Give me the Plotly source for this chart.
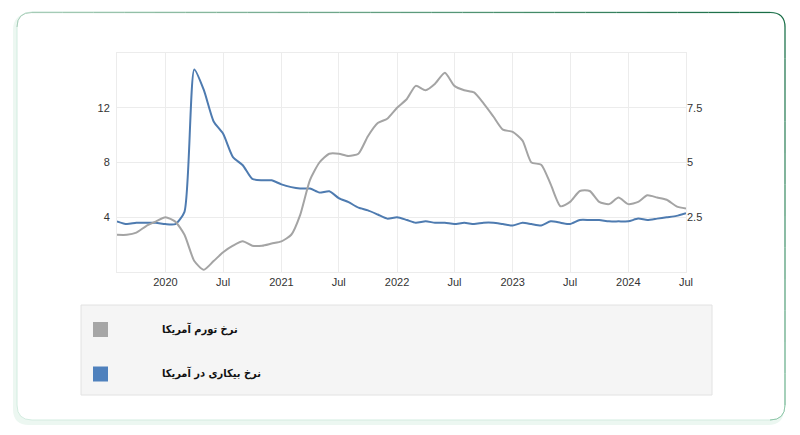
import plotly.graph_objects as go
import pandas as pd

# ---------------- data ----------------
months = pd.date_range("2019-08-01", "2024-07-01", freq="MS").strftime("%Y-%m-%d").tolist()

inflation = [1.7, 1.7, 1.8, 2.1, 2.3,
             2.5, 2.3, 1.7, 0.5, 0.1, 0.5, 0.9, 1.2, 1.4, 1.2, 1.2, 1.3,
             1.4, 1.7, 2.6, 4.2, 5.0, 5.4, 5.4, 5.3, 5.4, 6.2, 6.8, 7.0,
             7.5, 7.9, 8.5, 8.3, 8.6, 9.1, 8.5, 8.3, 8.2, 7.7, 7.1, 6.5,
             6.4, 6.0, 5.0, 4.9, 4.0, 3.0, 3.2, 3.7, 3.7, 3.2, 3.1, 3.4,
             3.1, 3.2, 3.5, 3.4, 3.3, 3.0, 2.9]

unemployment = [3.7, 3.5, 3.6, 3.6, 3.6,
                3.5, 3.5, 4.4, 14.8, 13.3, 11.0, 10.1, 8.4, 7.8, 6.8, 6.7, 6.7,
                6.4, 6.2, 6.1, 6.1, 5.8, 5.9, 5.4, 5.1, 4.7, 4.5, 4.2, 3.9,
                4.0, 3.8, 3.6, 3.7, 3.6, 3.6, 3.5, 3.6, 3.5, 3.6, 3.6, 3.5,
                3.4, 3.6, 3.5, 3.4, 3.7, 3.6, 3.5, 3.8, 3.8, 3.8, 3.7, 3.7,
                3.7, 3.9, 3.8, 3.9, 4.0, 4.1, 4.3]

x_tickvals = ["2020-01-01", "2020-07-01", "2021-01-01", "2021-07-01", "2022-01-01",
              "2022-07-01", "2023-01-01", "2023-07-01", "2024-01-01", "2024-07-01"]
x_ticktext = ["2020", "Jul", "2021", "Jul", "2022", "Jul", "2023", "Jul", "2024", "Jul"]
left_ticks = [4, 8, 12]
right_ticks = [2.5, 5, 7.5]

series_names = ["نرخ تورم آمریکا", "نرخ بیکاری در آمریکا"]
series_colors = ["#a4a4a4", "#4e7bb0"]
legend_colors = ["#a6a6a6", "#4f81bd"]

# ---------------- layout helpers ----------------
L, R, T, B = 117, 686, 53, 272
W, H = R - L, B - T


def px(x):
    return (x - L) / W


def py(y):
    return (B - y) / H


def rounded_path(x0, y0, x1, y1, r):
    pts = [
        f"M {px(x0 + r)},{py(y0)}",
        f"L {px(x1 - r)},{py(y0)}",
        f"Q {px(x1)},{py(y0)} {px(x1)},{py(y0 + r)}",
        f"L {px(x1)},{py(y1 - r)}",
        f"Q {px(x1)},{py(y1)} {px(x1 - r)},{py(y1)}",
        f"L {px(x0 + r)},{py(y1)}",
        f"Q {px(x0)},{py(y1)} {px(x0)},{py(y1 - r)}",
        f"L {px(x0)},{py(y0 + r)}",
        f"Q {px(x0)},{py(y0)} {px(x0 + r)},{py(y0)}",
        "Z",
    ]
    return " ".join(pts)


def mix(c1, c2, t):
    a = [int(c1[i:i + 2], 16) for i in (1, 3, 5)]
    b = [int(c2[i:i + 2], 16) for i in (1, 3, 5)]
    return "#" + "".join(f"{round(a[k] + (b[k] - a[k]) * t):02x}" for k in range(3))


fig = go.Figure()

fig.add_trace(go.Scatter(
    x=months, y=inflation, name=series_names[0], yaxis="y2",
    mode="lines", line=dict(color=series_colors[0], width=2, shape="spline", smoothing=0.6),
    showlegend=False,
))
fig.add_trace(go.Scatter(
    x=months, y=unemployment, name=series_names[1], yaxis="y",
    mode="lines", line=dict(color=series_colors[1], width=2, shape="spline", smoothing=0.6),
    showlegend=False,
))

shapes = []
# card shadow + card
shapes.append(dict(type="path", xref="paper", yref="paper", layer="below",
                   path=rounded_path(13, 14, 784, 425, 16),
                   fillcolor="#ecf7f1", line=dict(width=0)))
shapes.append(dict(type="path", xref="paper", yref="paper", layer="below",
                   path=rounded_path(17, 12, 785, 420, 15),
                   fillcolor="#ffffff", line=dict(color="#d3ece0", width=1)))
# gradient top edge
n = 24
x_start, x_end = 32, 770
for i in range(n):
    xa = x_start + (x_end - x_start) * i / n
    xb = x_start + (x_end - x_start) * (i + 1) / n
    shapes.append(dict(type="line", xref="paper", yref="paper", layer="below",
                       x0=px(xa), x1=px(xb), y0=py(12.5), y1=py(12.5),
                       line=dict(color=mix("#a8cdb8", "#176b44", (i + 0.5) / n), width=1.2)))
# top-right corner + right edge
shapes.append(dict(type="path", xref="paper", yref="paper", layer="below",
                   path=f"M {px(770)},{py(12.5)} Q {px(785)},{py(12.5)} {px(785)},{py(27)}",
                   line=dict(color="#176b44", width=1.2)))
m = 12
for i in range(m):
    ya = 27 + (405 - 27) * i / m
    yb = 27 + (405 - 27) * (i + 1) / m
    shapes.append(dict(type="line", xref="paper", yref="paper", layer="below",
                       x0=px(785), x1=px(785), y0=py(ya), y1=py(yb),
                       line=dict(color=mix("#176b44", "#7dbb9a", (i + 0.5) / m), width=1.2)))
shapes.append(dict(type="path", xref="paper", yref="paper", layer="below",
                   path=f"M {px(785)},{py(405)} Q {px(785)},{py(420)} {px(770)},{py(420)}",
                   line=dict(color="#8fc7a9", width=1)))
# left top corner lighter
shapes.append(dict(type="path", xref="paper", yref="paper", layer="below",
                   path=f"M {px(17)},{py(27)} Q {px(17)},{py(12.5)} {px(32)},{py(12.5)}",
                   line=dict(color="#a8cdb8", width=1)))

# legend box
shapes.append(dict(type="rect", xref="paper", yref="paper", layer="below",
                   x0=px(81), x1=px(712), y0=py(305), y1=py(395),
                   fillcolor="#f5f5f5", line=dict(color="#e2e2e2", width=1)))
# legend squares
for i, yc in enumerate([329.5, 374]):
    shapes.append(dict(type="rect", xref="paper", yref="paper", layer="above",
                       x0=px(93), x1=px(108), y0=py(yc - 7.5), y1=py(yc + 7.5),
                       fillcolor=legend_colors[i], line=dict(width=0)))

annotations = []
for i, yc in enumerate([329, 373]):
    annotations.append(dict(xref="paper", yref="paper", x=px(160), y=py(yc),
                            xanchor="left", yanchor="middle", showarrow=False,
                            text=f"<b>{series_names[i]}</b>",
                            font=dict(family="DejaVu Sans Condensed, DejaVu Sans", size=11,
                                      color="#111111")))

fig.update_layout(
    width=800, height=435,
    margin=dict(l=L, r=800 - R, t=T, b=435 - B, pad=0),
    paper_bgcolor="#ffffff", plot_bgcolor="rgba(0,0,0,0)",
    showlegend=False,
    shapes=shapes, annotations=annotations,
    xaxis=dict(
        type="date", range=[months[0], months[-1]],
        tickvals=x_tickvals, ticktext=x_ticktext,
        showgrid=True, gridcolor="#ececec", gridwidth=1,
        showline=True, linecolor="#ececec", linewidth=1, mirror=True,
        ticks="", zeroline=False,
        tickfont=dict(family="Liberation Sans, Arial", size=11, color="#333333"),
    ),
    yaxis=dict(
        range=[0, 16], tickvals=left_ticks,
        showgrid=True, gridcolor="#ececec", gridwidth=1,
        showline=True, linecolor="#ececec", linewidth=1, mirror=True,
        zeroline=False, ticks="", ticklabelstandoff=4,
        tickfont=dict(family="Liberation Sans, Arial", size=11, color="#333333"),
    ),
    yaxis2=dict(
        range=[0, 10], tickvals=right_ticks, overlaying="y", side="right",
        showgrid=False, zeroline=False, ticks="", showline=False,
        tickfont=dict(family="Liberation Sans, Arial", size=11, color="#333333"),
    ),
)

fig.write_html("out.html")
